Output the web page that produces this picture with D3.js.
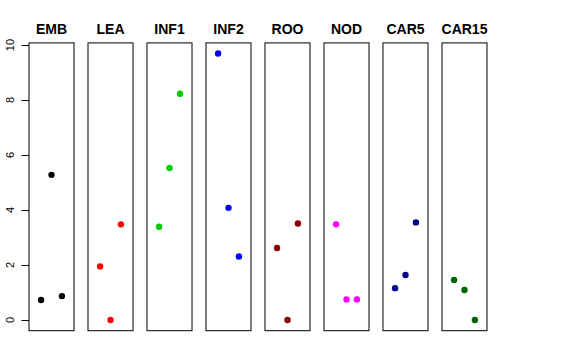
<!DOCTYPE html>
<html>
<head>
<meta charset="utf-8">
<script src="https://cdn.jsdelivr.net/npm/d3@7"></script>
<style>
  body { margin: 0; background: #fff; }
  text { font-family: "Liberation Sans", Arial, sans-serif; }
</style>
</head>
<body>
<div id="chart"></div>
<script>
// paneles y valores (tres puntos por panel, x = 1, 2, 3)
const panels = ['EMB', 'LEA', 'INF1', 'INF2', 'ROO', 'NOD', 'CAR5', 'CAR15'];
const colors = ['#000000', '#FF0000', '#00CD00', '#0000FF', '#8B0000', '#FF00FF', '#00008B', '#006400'];
const xPos = [1, 2, 3];
const values = [
  [0.73, 5.28, 0.87],
  [1.95, 0.00, 3.48],
  [3.39, 5.53, 8.23],
  [9.69, 4.08, 2.31],
  [2.62, 0.00, 3.51],
  [3.48, 0.75, 0.75],
  [1.16, 1.64, 3.55],
  [1.46, 1.09, 0.00]
];
const yTicks = [0, 2, 4, 6, 8, 10];

const W = 576, H = 360;
const svg = d3.select('#chart').append('svg')
  .attr('width', W).attr('height', H);

// rango y al estilo R (4% extra)
const allV = values.flat();
const yMin = d3.min(allV), yMax = d3.max(allV);
const yPad = (yMax - yMin) * 0.04;
const y = d3.scaleLinear()
  .domain([yMin - yPad, yMax + yPad])
  .range([330.7, 42.9]);

const band = d3.scaleBand()
  .domain(panels)
  .range([29, 487])
  .paddingInner(0.237)
  .paddingOuter(0);

panels.forEach(function(p, i) {
  const left = band(p);
  const x = d3.scaleLinear()
    .domain([-0.16, 4.16])
    .range([left, left + band.bandwidth()]);

  const g = svg.append('g');

  g.append('rect')
    .attr('x', left).attr('y', y.range()[1])
    .attr('width', band.bandwidth())
    .attr('height', y.range()[0] - y.range()[1])
    .attr('fill', 'none')
    .attr('stroke', '#000')
    .attr('stroke-width', 1);

  g.append('text')
    .attr('x', left + band.bandwidth() / 2)
    .attr('y', 34)
    .attr('text-anchor', 'middle')
    .style('font-weight', 'bold')
    .style('font-size', '14px')
    .text(p);

  g.selectAll('circle')
    .data(values[i])
    .enter()
    .append('circle')
    .attr('cx', function(d, j) { return x(xPos[j]); })
    .attr('cy', function(d) { return y(d); })
    .attr('r', 3.2)
    .attr('fill', colors[i]);
});

// eje y
const axisX = band(panels[0]);
const axis = svg.append('g')
  .attr('transform', 'translate(' + axisX + ',0)')
  .call(d3.axisLeft(y).tickValues(yTicks).tickSize(7.5).tickFormat(''));
axis.select('.domain').remove();
axis.selectAll('.tick line').attr('stroke', '#000');

svg.append('g').selectAll('text')
  .data(yTicks)
  .enter()
  .append('text')
  .attr('transform', function(d) { return 'translate(13.5,' + y(d) + ') rotate(-90)'; })
  .attr('text-anchor', 'middle')
  .style('font-size', '11px')
  .text(function(d) { return d; });
</script>
</body>
</html>
